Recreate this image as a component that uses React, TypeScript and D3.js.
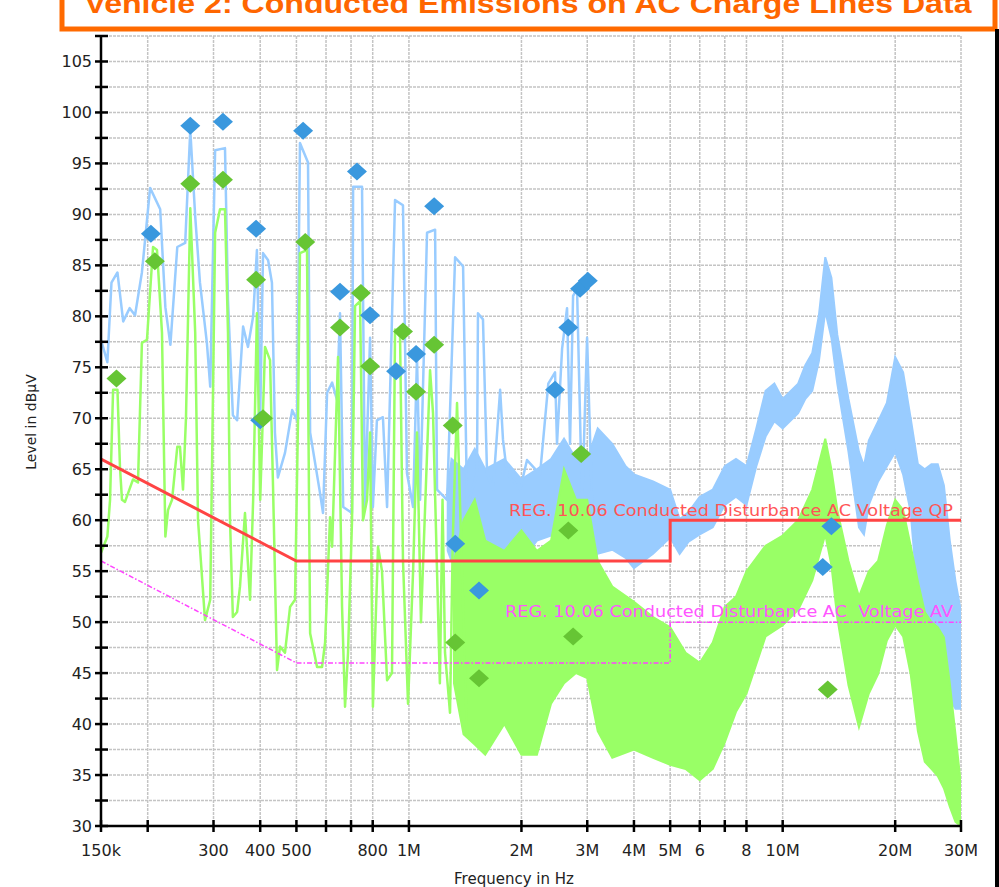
import React from 'react';
import * as d3 from 'd3';

// frequencies in MHz, levels in dBµV
const xTickValues = [0.15, 0.2, 0.3, 0.4, 0.5, 0.6, 0.7, 0.8, 1, 2, 3, 4, 5, 6, 7, 8, 10, 20, 30];
const xTickLabels = ['150k', '', '300', '400', '500', '', '', '800', '1M', '2M', '3M', '4M', '5M', '6', '', '8', '10M', '20M', '30M'];
const yTickValues = [30, 35, 40, 45, 50, 55, 60, 65, 70, 75, 80, 85, 90, 95, 100, 105];
const yMinorValues = [32.5, 37.5, 42.5, 47.5, 52.5, 57.5, 62.5, 67.5, 72.5, 77.5, 82.5, 87.5, 92.5, 97.5, 102.5, 107.5];

const limitQP: [number, number][] = [[0.15, 66], [0.5, 56], [5, 56], [5, 60], [30, 60]];
const limitAV: [number, number][] = [[0.15, 56], [0.5, 46], [5, 46], [5, 50], [30, 50]];

// peak detector sweep (blue), discrete part
const peakTrace: [number, number][] = [
  [0.150, 77.7], [0.156, 75.5], [0.160, 83.3], [0.166, 84.3], [0.172, 79.5], [0.179, 80.8], [0.185, 80.1],
  [0.193, 84.3], [0.203, 92.6], [0.216, 90.5], [0.223, 80.9], [0.230, 77.2], [0.240, 86.8], [0.252, 87.2],
  [0.260, 98.3], [0.268, 89.8], [0.276, 83.3], [0.288, 77.4], [0.294, 73.1], [0.303, 96.3], [0.322, 96.5],
  [0.328, 81.6], [0.338, 70.3], [0.347, 69.8], [0.360, 79.0], [0.371, 77.0], [0.383, 80.0], [0.392, 86.5],
  [0.400, 70.1], [0.407, 86.2], [0.420, 85.5], [0.430, 83.3], [0.438, 68.6], [0.446, 64.2], [0.466, 66.6],
  [0.487, 70.8], [0.502, 69.8], [0.511, 97.0], [0.537, 95.1], [0.544, 68.6], [0.578, 62.7], [0.589, 60.7],
  [0.604, 72.5], [0.623, 73.5], [0.642, 71.8], [0.654, 80.3], [0.667, 61.3], [0.704, 60.7], [0.709, 92.7],
  [0.749, 92.7], [0.763, 61.3], [0.787, 77.9], [0.801, 61.3], [0.821, 69.8], [0.852, 70.1], [0.874, 61.3],
  [0.918, 91.4], [0.964, 90.9], [0.988, 64.6], [1.026, 61.3], [1.051, 76.0], [1.071, 62.0], [1.118, 88.2],
  [1.175, 88.5], [1.189, 63.0], [1.265, 62.0], [1.329, 85.8], [1.396, 84.9], [1.431, 61.3], [1.521, 64.6],
  [1.530, 80.3], [1.578, 79.7], [1.618, 64.6], [1.679, 63.0], [1.754, 72.8], [1.785, 67.9], [1.830, 64.6],
  [1.983, 63.0], [2.070, 65.9], [2.243, 64.5], [2.36, 73.4], [2.46, 74.5], [2.49, 67.5], [2.569, 76.8],
  [2.649, 80.8], [2.698, 67.5], [2.749, 82.0], [2.817, 82.7], [2.906, 61.5], [2.997, 77.9], [3.09, 61.5],
  [3.188, 56.0],
];

// peak sweep, dense part: [freq, low, high]
const peakBand: [number, number, number][] = [
  [1.27, 57, 63], [1.3, 56, 66], [1.4, 55.5, 65], [1.5, 56, 67], [1.6, 54.5, 65], [1.8, 57, 66],
  [2.0, 56, 64], [2.2, 58, 65], [2.4, 58.5, 66], [2.6, 59, 68], [2.8, 58, 66], [3.0, 57, 66],
  [3.2, 56.7, 69], [3.5, 57.1, 67.5], [3.8, 56.3, 65.3], [4.0, 55.3, 64.5], [4.5, 56.7, 63.8],
  [5.0, 58.3, 63], [5.3, 56.7, 60.1], [5.6, 57.9, 60.8], [6.0, 58.6, 62.3], [6.5, 59.3, 63],
  [7.0, 61.5, 65.3], [7.5, 62.3, 66], [8.0, 61.5, 65.3], [8.5, 65.3, 69], [9.0, 68.2, 72.7],
  [9.5, 69.7, 73.4], [10, 69, 71.9], [11, 70.5, 73.4], [11.5, 71.9, 75.2], [12, 72.7, 76.4],
  [12.5, 75.6, 80.1], [13, 80.5, 85.8], [13.5, 77.9, 83.8], [14, 73.4, 78.2], [15, 66.7, 71.9],
  [16, 59.3, 66.7], [16.5, 58.6, 65.3], [17, 61.5, 67.8], [18, 63.8, 69.7], [19, 65.3, 71.5],
  [20, 66.7, 76], [21, 64.5, 74.5], [22, 60.8, 70], [23, 52.3, 65.5], [24, 49.7, 65], [25, 48.2, 65.5],
  [26, 47.4, 65.5], [27, 44.9, 63.4], [28, 42.5, 58], [29, 41.5, 54], [30, 41.5, 51],
];

// average detector sweep (green), discrete part
const avgTrace: [number, number][] = [
  [0.150, 56.8], [0.156, 58.4], [0.1586, 62], [0.1616, 72.8], [0.166, 72.8], [0.1686, 65.2], [0.1707, 62.0],
  [0.1739, 61.8], [0.1827, 64.0], [0.1884, 63.7], [0.193, 77.4], [0.1991, 77.7], [0.2067, 86.8], [0.2118, 86.5],
  [0.2184, 78.4], [0.223, 58.4], [0.2267, 61.0], [0.2324, 62], [0.240, 67.2], [0.244, 67.2], [0.2486, 63.0],
  [0.2532, 70], [0.260, 90.6], [0.268, 78.4], [0.2727, 60.0], [0.2847, 50.2], [0.294, 52.2], [0.303, 88.2],
  [0.3123, 90.5], [0.322, 90.5], [0.328, 78.4], [0.3321, 60.0], [0.338, 50.5], [0.347, 51.0], [0.3532, 53.5],
  [0.3642, 60.7], [0.3757, 52.2], [0.383, 62.0], [0.392, 80.3], [0.400, 62.0], [0.4121, 77.0], [0.425, 75.7],
  [0.4329, 63.3], [0.4437, 45.3], [0.4519, 47.6], [0.466, 47.0], [0.4808, 51.5], [0.4957, 52.2], [0.505, 70],
  [0.511, 86.2], [0.5337, 86.5], [0.544, 48.9], [0.5678, 45.6], [0.5855, 45.6], [0.5966, 48], [0.6151, 60.3],
  [0.623, 57.4], [0.6461, 76.0], [0.6623, 51.5], [0.6746, 41.7], [0.6871, 47.0], [0.7043, 60], [0.7175, 81.0],
  [0.740, 81.5], [0.7537, 60.0], [0.7725, 62], [0.787, 68.6], [0.801, 41.7], [0.8265, 57.4], [0.8472, 55],
  [0.874, 44.3], [0.9009, 45], [0.918, 78.7], [0.9468, 78.0], [0.964, 56.1], [0.9945, 42.0], [1.026, 55],
  [1.051, 68.6], [1.077, 50], [1.139, 74.7], [1.160, 70.5], [1.189, 55], [1.21, 44], [1.23, 62], [1.249, 47],
  [1.288, 41.1], [1.31, 58], [1.345, 71.5], [1.387, 55], [1.431, 38.7],
];

// average sweep, dense part: [freq, low, high]
const avgBand: [number, number, number][] = [
  [1.32, 44, 56], [1.4, 39, 60], [1.5, 38, 62], [1.6, 37, 58],
  [1.8, 40, 57], [2.0, 37, 59], [2.2, 37, 57], [2.4, 42, 58], [2.6, 44, 65], [2.8, 45, 62], [3.0, 44.5, 62],
  [3.2, 39.3, 56], [3.5, 36.7, 53.5], [4.0, 37.5, 52], [4.5, 36.7, 50.5], [5.0, 36, 49.5], [5.5, 35.6, 47],
  [6.0, 34.5, 46], [6.5, 35.6, 48], [7.0, 38.2, 51.5], [7.5, 41.2, 52.5], [8.0, 43, 55], [9.0, 48.6, 57.5],
  [10, 49.7, 58.5], [11, 51.2, 60], [12, 54.1, 63], [13, 58.6, 68], [13.5, 55.6, 65], [14, 50.4, 61],
  [15, 43.8, 56], [16, 39.7, 52.5], [17, 43, 55], [18, 44.9, 56], [19, 48.2, 59.5], [20, 49.7, 62],
  [21, 48.6, 61], [22, 44.9, 57.5], [23, 39.3, 54], [24, 36.3, 51], [25, 35.6, 50], [26, 34.9, 49.5],
  [27, 33.7, 48.5], [28, 31.9, 44], [29, 30.4, 39], [30, 30, 34],
];

const qpMarkers: [number, number][] = [
  [0.204, 88.1], [0.260, 98.7], [0.318, 99.1], [0.390, 88.6], [0.400, 69.8], [0.521, 98.2], [0.654, 82.4],
  [0.726, 94.2], [0.787, 80.1], [0.924, 74.6], [1.045, 76.3], [1.168, 90.8], [1.33, 57.7], [1.54, 53.1],
  [2.46, 72.8], [2.67, 78.9], [2.87, 82.7], [3.01, 83.5], [12.8, 55.4], [13.5, 59.4],
];

const avMarkers: [number, number][] = [
  [0.165, 73.9], [0.209, 85.4], [0.260, 93.0], [0.318, 93.4], [0.390, 83.6], [0.407, 70.0], [0.528, 87.3],
  [0.654, 78.9], [0.744, 82.3], [0.787, 75.1], [0.964, 78.5], [1.045, 72.6], [1.168, 77.2], [1.31, 69.3],
  [1.33, 48.0], [1.54, 44.5], [2.67, 59.0], [2.75, 48.6], [2.89, 66.5], [13.2, 43.4],
];

const title = 'Vehicle 2: Conducted Emissions on AC Charge Lines Data';
const qpLabel = 'REG. 10.06 Conducted Disturbance AC Voltage QP';
const avLabel = 'REG. 10.06 Conducted Disturbance AC  Voltage AV';

const App = () => {
  const x = d3.scaleLog().domain([0.15, 30]).range([101, 961]);
  const y = d3.scaleLinear().domain([30, 107.5]).range([826, 36]);
  const [x0, x1] = x.range();
  const [y0, y1] = y.range();

  const line = d3.line<[number, number]>().x(d => x(d[0])).y(d => y(d[1]));
  const band = d3
    .area<[number, number, number]>()
    .x(d => x(d[0]))
    .y0(d => y(d[1]))
    .y1(d => y(d[2]));

  const diamond = (d: [number, number]) => {
    const cx = x(d[0]);
    const cy = y(d[1]);
    return `M${cx},${cy - 9}L${cx + 10},${cy}L${cx},${cy + 9}L${cx - 10},${cy}Z`;
  };

  const tickFont = { fontFamily: 'DejaVu Sans', fontSize: 16, fill: '#222' };

  return (
    <svg width={999} height={887} style={{ position: 'absolute', left: 0, top: 0, background: '#fff' }}>
      <defs>
        <clipPath id="plot">
          <rect x={x0} y={y1} width={x1 - x0} height={y0 - y1} />
        </clipPath>
      </defs>

      {/* title box */}
      <rect x={62} y={-20} width={933} height={49} fill="#fff" stroke="#ff6a00" strokeWidth={5} />
      <text
        x={528}
        y={13}
        textAnchor="middle"
        textLength={887}
        lengthAdjust="spacingAndGlyphs"
        style={{ fontFamily: 'Liberation Sans', fontWeight: 'bold', fontSize: 27, fill: '#ff6600' }}
      >
        {title}
      </text>
      <rect x={995} y={29} width={4} height={858} fill="#000" />

      {/* grid */}
      <g stroke="#c4c4c4" strokeWidth={1.5} strokeDasharray="3,1" fill="none">
        {[...yTickValues, ...yMinorValues].filter(v => v > 30).map(v => (
          <line key={'h' + v} x1={x0} x2={x1} y1={y(v)} y2={y(v)} />
        ))}
        {xTickValues.filter(v => v > 0.15).map(v => (
          <line key={'v' + v} x1={x(v)} x2={x(v)} y1={y1} y2={y0} />
        ))}
      </g>

      {/* traces */}
      <g clipPath="url(#plot)">
        <path d={band(peakBand) || ''} fill="#99ccff" stroke="#99ccff" strokeWidth={2} />
        <path d={line(peakTrace) || ''} fill="none" stroke="#99ccff" strokeWidth={2.5} strokeLinejoin="round" />
        <path d={band(avgBand) || ''} fill="#99ff66" stroke="#99ff66" strokeWidth={2} />
        <path d={line(avgTrace) || ''} fill="none" stroke="#99ff66" strokeWidth={2.5} strokeLinejoin="round" />
        <path d={line(limitAV) || ''} fill="none" stroke="#ff44ff" strokeWidth={1.5} strokeDasharray="5,2,1.5,2" />
        <path d={line(limitQP) || ''} fill="none" stroke="#ff4444" strokeWidth={3} />
      </g>

      {/* limit labels */}
      <text x={953} y={y(60) - 4} textAnchor="end" textLength={444} lengthAdjust="spacingAndGlyphs"
        style={{ fontFamily: 'DejaVu Sans', fontSize: 16, fill: '#ff5555' }}>
        {qpLabel}
      </text>
      <text x={953} y={y(50) - 5} textAnchor="end" textLength={448} lengthAdjust="spacingAndGlyphs"
        xmlSpace="preserve" style={{ fontFamily: 'DejaVu Sans', fontSize: 16, fill: '#ff55ff', whiteSpace: 'pre' }}>
        {avLabel}
      </text>

      {/* markers */}
      {qpMarkers.map((d, i) => (
        <path key={'qp' + i} d={diamond(d)} fill="#3a98de" />
      ))}
      {avMarkers.map((d, i) => (
        <path key={'av' + i} d={diamond(d)} fill="#66c534" />
      ))}

      {/* axes */}
      <g stroke="#000" strokeWidth={2.5}>
        <line x1={x0} x2={x0} y1={y1 - 1} y2={y0 + 1} />
        <line x1={x0} x2={x1} y1={y0} y2={y0} />
        {[...yTickValues, ...yMinorValues].map(v => (
          <line key={'yt' + v} x1={x0 - 6} x2={x0 + 7} y1={y(v)} y2={y(v)} />
        ))}
        {xTickValues.map(v => (
          <line key={'xt' + v} x1={x(v)} x2={x(v)} y1={y0 - 6} y2={y0 + 6} />
        ))}
      </g>
      {yTickValues.map(v => (
        <text key={'yl' + v} x={x0 - 9} y={y(v) + 6} textAnchor="end" style={tickFont}>
          {v}
        </text>
      ))}
      {xTickValues.map((v, i) => (
        <text key={'xl' + v} x={x(v)} y={856} textAnchor="middle" style={tickFont}>
          {xTickLabels[i]}
        </text>
      ))}

      <text transform="translate(36,422) rotate(-90)" textAnchor="middle"
        style={{ fontFamily: 'DejaVu Sans', fontSize: 14, fill: '#222' }}>
        Level in dBµV
      </text>
      <text x={514} y={884} textAnchor="middle" style={{ fontFamily: 'DejaVu Sans', fontSize: 15, fill: '#222' }}>
        Frequency in Hz
      </text>
    </svg>
  );
};

export default App;
